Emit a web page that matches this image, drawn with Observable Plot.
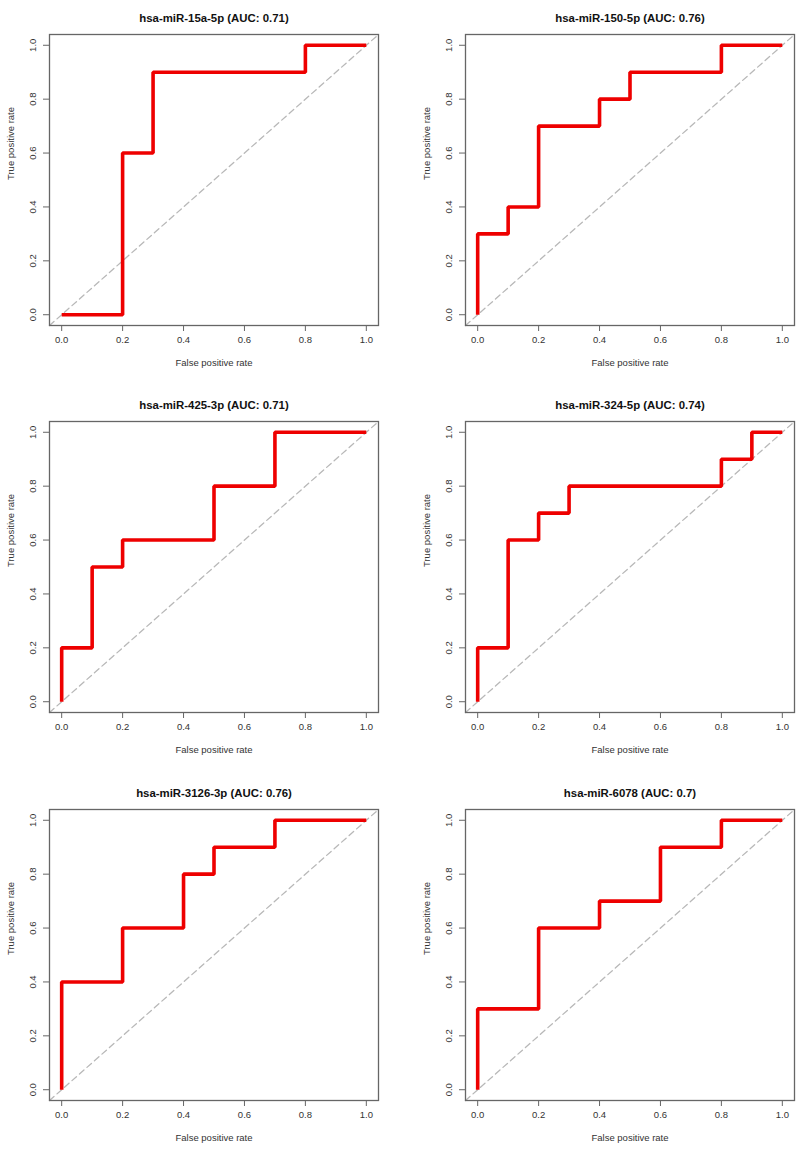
<!DOCTYPE html>
<html>
<head>
<meta charset="utf-8">
<script src="https://cdn.jsdelivr.net/npm/d3@7"></script>
<script src="https://cdn.jsdelivr.net/npm/@observablehq/plot@0.6"></script>
<style>
  html, body { margin: 0; padding: 0; background: #fff; overflow: hidden; }
  body { width: 797px; height: 1150px; position: relative; font-family: "Liberation Sans", Arial, Helvetica, sans-serif; }
  .panel { position: absolute; }
</style>
</head>
<body>
<div id="root"></div>
<script>
// ---- Data ----
const titles = [
  "hsa-miR-15a-5p (AUC: 0.71)",
  "hsa-miR-150-5p (AUC: 0.76)",
  "hsa-miR-425-3p (AUC: 0.71)",
  "hsa-miR-324-5p (AUC: 0.74)",
  "hsa-miR-3126-3p (AUC: 0.76)",
  "hsa-miR-6078 (AUC: 0.7)"
];
// ROC curve corner points (false positive rate, true positive rate)
const fpr15a = [0, 0.2, 0.2, 0.3, 0.3, 0.8, 0.8, 1.0];
const tpr15a = [0, 0.0, 0.6, 0.6, 0.9, 0.9, 1.0, 1.0];
const fpr150 = [0, 0.0, 0.1, 0.1, 0.2, 0.2, 0.4, 0.4, 0.5, 0.5, 0.8, 0.8, 1.0];
const tpr150 = [0, 0.3, 0.3, 0.4, 0.4, 0.7, 0.7, 0.8, 0.8, 0.9, 0.9, 1.0, 1.0];
const fpr425 = [0, 0.0, 0.1, 0.1, 0.2, 0.2, 0.5, 0.5, 0.7, 0.7, 1.0];
const tpr425 = [0, 0.2, 0.2, 0.5, 0.5, 0.6, 0.6, 0.8, 0.8, 1.0, 1.0];
const fpr324 = [0, 0.0, 0.1, 0.1, 0.2, 0.2, 0.3, 0.3, 0.8, 0.8, 0.9, 0.9, 1.0];
const tpr324 = [0, 0.2, 0.2, 0.6, 0.6, 0.7, 0.7, 0.8, 0.8, 0.9, 0.9, 1.0, 1.0];
const fpr3126 = [0, 0.0, 0.2, 0.2, 0.4, 0.4, 0.5, 0.5, 0.7, 0.7, 1.0];
const tpr3126 = [0, 0.4, 0.4, 0.6, 0.6, 0.8, 0.8, 0.9, 0.9, 1.0, 1.0];
const fpr6078 = [0, 0.0, 0.2, 0.2, 0.4, 0.4, 0.6, 0.6, 0.8, 0.8, 1.0];
const tpr6078 = [0, 0.3, 0.3, 0.6, 0.6, 0.7, 0.7, 0.9, 0.9, 1.0, 1.0];

const fprSeries = [fpr15a, fpr150, fpr425, fpr324, fpr3126, fpr6078];
const tprSeries = [tpr15a, tpr150, tpr425, tpr324, tpr3126, tpr6078];

const axisTicks = [0, 0.2, 0.4, 0.6, 0.8, 1.0];
const axisDomain = [-0.04, 1.04];   // R's default 4% axis extension
const xLabel = "False positive rate";
const yLabel = "True positive rate";

// ---- Layout ----
const root = document.getElementById("root");
const colLeft = [0, 416];
const colWidth = [398, 381];
const colMarginRight = [20, 3];
const rowTop = [0, 387, 775];
const fmt = d3.format(".1f");
const font = "Liberation Sans, Arial, Helvetica, sans-serif";

titles.forEach((title, i) => {
  const col = i % 2, row = Math.floor(i / 2);
  const pts = fprSeries[i].map((f, j) => ({fpr: f, tpr: tprSeries[i][j]}));
  const chart = Plot.plot({
    width: colWidth[col],
    height: 375,
    marginLeft: 49,
    marginRight: colMarginRight[col],
    marginTop: 34,
    marginBottom: 50,
    style: {fontFamily: font, fontSize: "9.5px", background: "#fff", overflow: "visible"},
    x: {domain: axisDomain},
    y: {domain: axisDomain},
    marks: [
      Plot.line(axisDomain, {x: d => d, y: d => d, stroke: "#b8b8b8", strokeWidth: 1.3, strokeDasharray: "6,4"}),
      Plot.line(pts, {x: "fpr", y: "tpr", stroke: "#ee0000", strokeWidth: 3.6, strokeLinejoin: "miter", strokeLinecap: "butt"}),
      Plot.frame({stroke: "#666", strokeWidth: 1.3}),
      Plot.axisX({ticks: axisTicks, tickFormat: fmt, tickSize: 6, tickPadding: 5, label: null, stroke: "#666", fill: "#333", fontSize: 9.5}),
      Plot.axisY({ticks: axisTicks, tickFormat: fmt, tickSize: 6, tickPadding: 8, tickRotate: -90, label: null, stroke: "#666", fill: "#333", fontSize: 9.5}),
      Plot.text([xLabel], {frameAnchor: "bottom", dy: 40, text: d => d, fill: "#333", fontSize: 9.5}),
      Plot.text([yLabel], {frameAnchor: "left", dx: -39, rotate: -90, text: d => d, fill: "#333", fontSize: 9.5}),
      Plot.text([title], {frameAnchor: "top", dy: -21, text: d => d, fill: "#111", fontSize: 11.4, fontWeight: "bold"})
    ]
  });
  const div = document.createElement("div");
  div.className = "panel";
  div.style.left = colLeft[col] + "px";
  div.style.top = rowTop[row] + "px";
  div.appendChild(chart);
  root.appendChild(div);
});
</script>
</body>
</html>
